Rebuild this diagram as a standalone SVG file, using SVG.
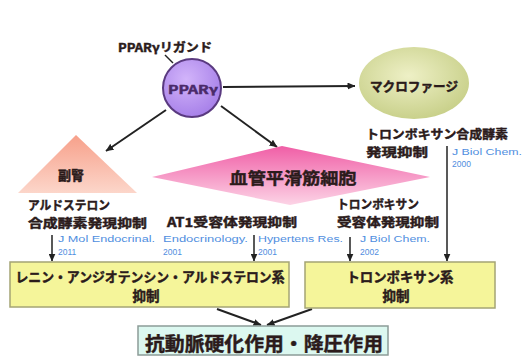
<svg xmlns="http://www.w3.org/2000/svg" width="524" height="356" viewBox="0 0 524 356">
<defs>
  <style>
    text { font-family: "Noto Sans CJK JP", "Noto Sans", sans-serif; font-weight: 700; fill: #2b1b1b; stroke: #2b1b1b; stroke-width: 0.45px; dominant-baseline: central; }
    .c { text-anchor: middle; }
    .ref { font-family: "Liberation Sans", Arial, sans-serif; font-weight: 400; font-size: 8.5px; fill: #4f8ee0; stroke: none; }
    .lbl { font-size: 12.5px; }
    .conn { stroke: #222; stroke-width: 2; fill: none; }
    .thin { stroke: #222; stroke-width: 1.5; fill: none; }
    .ybox { fill: #f5f59a; stroke: #a4a474; stroke-width: 1.5; }
  </style>
  <marker id="ah" viewBox="0 0 8 7" refX="7.5" refY="3.5" markerWidth="8" markerHeight="7" markerUnits="userSpaceOnUse" orient="auto">
    <path d="M0,0 L8,3.5 L0,7 z" fill="#222"/>
  </marker>
  <radialGradient id="gP" cx="0.4" cy="0.35" r="0.7">
    <stop offset="0" stop-color="#d2b4fa"/>
    <stop offset="1" stop-color="#a57ee8"/>
  </radialGradient>
  <radialGradient id="gM" cx="0.45" cy="0.4" r="0.65">
    <stop offset="0" stop-color="#eef0c6"/>
    <stop offset="1" stop-color="#c6ce86"/>
  </radialGradient>
  <linearGradient id="gT" x1="0" y1="0" x2="0" y2="1">
    <stop offset="0" stop-color="#f7a08a"/>
    <stop offset="1" stop-color="#fcd6ca"/>
  </linearGradient>
  <linearGradient id="gD" x1="0" y1="0" x2="0" y2="1">
    <stop offset="0" stop-color="#f05ea6"/>
    <stop offset="1" stop-color="#fcd4e6"/>
  </linearGradient>
</defs>
<rect width="524" height="356" fill="#ffffff"/>

<g id="connectors">
  <line class="thin" x1="165" y1="55" x2="173" y2="63"/>
  <line class="conn" x1="223" y1="87" x2="355" y2="86" marker-end="url(#ah)"/>
  <line class="conn" x1="166" y1="110" x2="106" y2="151" marker-end="url(#ah)"/>
  <line class="conn" x1="221" y1="106" x2="277" y2="147" marker-end="url(#ah)"/>
  <line class="thin" x1="52" y1="235" x2="52" y2="261" marker-end="url(#ah)"/>
  <line class="thin" x1="254" y1="235" x2="254" y2="261" marker-end="url(#ah)"/>
  <line class="thin" x1="350" y1="237" x2="350" y2="261" marker-end="url(#ah)"/>
  <line class="thin" x1="447" y1="146" x2="447" y2="261" marker-end="url(#ah)"/>
  <line class="conn" x1="217" y1="309" x2="261" y2="325" marker-end="url(#ah)"/>
  <line class="conn" x1="312" y1="309" x2="267" y2="325" marker-end="url(#ah)"/>
</g>

<g id="ligand">
  <text class="c" x="165" y="46" font-size="12" textLength="94" lengthAdjust="spacingAndGlyphs">PPARγリガンド</text>
</g>

<g id="ppar">
  <circle cx="192" cy="88" r="29" fill="url(#gP)" stroke="#5a3a80" stroke-width="2"/>
  <text class="c" x="193" y="89" font-size="11" style="fill:#4a2a6a;stroke:#4a2a6a" textLength="50" lengthAdjust="spacingAndGlyphs">PPARγ</text>
</g>

<g id="macrophage">
  <ellipse cx="414" cy="83" rx="55" ry="36" fill="url(#gM)"/>
  <text class="c" x="414" y="85" font-size="13" textLength="88" lengthAdjust="spacingAndGlyphs">マクロファージ</text>
  <text x="366" y="133" class="lbl" textLength="142" lengthAdjust="spacingAndGlyphs">トロンボキサン合成酵素</text>
  <text x="366" y="151" class="lbl" textLength="62" lengthAdjust="spacingAndGlyphs">発現抑制</text>
  <text x="452" y="152" class="ref" textLength="70" lengthAdjust="spacingAndGlyphs">J Biol Chem.</text>
  <text x="452" y="164" class="ref">2000</text>
</g>

<g id="adrenal">
  <polygon points="76,135 137,193 18,193" fill="url(#gT)"/>
  <text class="c" x="71" y="174" font-size="13">副腎</text>
  <text x="28" y="204" class="lbl" textLength="82" lengthAdjust="spacingAndGlyphs">アルドステロン</text>
  <text x="28" y="222" class="lbl" textLength="119" lengthAdjust="spacingAndGlyphs">合成酵素発現抑制</text>
  <text x="58" y="239" class="ref" textLength="97" lengthAdjust="spacingAndGlyphs">J Mol Endocrinal.</text>
  <text x="58" y="252" class="ref">2011</text>
</g>

<g id="vsmc">
  <polygon points="152,177 282,146 430,177 290,205" fill="url(#gD)"/>
  <text class="c" x="293" y="177" font-size="16" textLength="127" lengthAdjust="spacingAndGlyphs">血管平滑筋細胞</text>
  <text x="167" y="221" class="lbl" textLength="130" lengthAdjust="spacingAndGlyphs">AT1受容体発現抑制</text>
  <text x="163" y="239" class="ref" textLength="85" lengthAdjust="spacingAndGlyphs">Endocrinology.</text>
  <text x="163" y="252" class="ref">2001</text>
  <text x="258" y="239" class="ref" textLength="85" lengthAdjust="spacingAndGlyphs">Hypertens Res.</text>
  <text x="258" y="252" class="ref">2001</text>
  <text x="337" y="203" class="lbl" textLength="82" lengthAdjust="spacingAndGlyphs">トロンボキサン</text>
  <text x="337" y="221" class="lbl" textLength="102" lengthAdjust="spacingAndGlyphs">受容体発現抑制</text>
  <text x="360" y="239" class="ref" textLength="70" lengthAdjust="spacingAndGlyphs">J Biol Chem.</text>
  <text x="360" y="252" class="ref">2002</text>
</g>

<g id="raas">
  <rect class="ybox" x="10" y="262" width="279" height="45"/>
  <text class="c" x="150" y="276" font-size="13.5" textLength="269" lengthAdjust="spacingAndGlyphs">レニン・アンジオテンシン・アルドステロン系</text>
  <text class="c" x="146" y="295" font-size="13.5">抑制</text>
</g>

<g id="thromboxane">
  <rect class="ybox" x="305" y="262" width="190" height="46"/>
  <text class="c" x="400" y="276" font-size="13.5" textLength="107" lengthAdjust="spacingAndGlyphs">トロンボキサン系</text>
  <text class="c" x="396" y="295" font-size="13.5">抑制</text>
</g>

<g id="effect">
  <rect x="138" y="326" width="250" height="29" fill="#dcf8f0" stroke="#8c9c98" stroke-width="1.5"/>
  <text class="c" x="264" y="342" font-size="19" textLength="238" lengthAdjust="spacingAndGlyphs">抗動脈硬化作用・降圧作用</text>
</g>
</svg>
